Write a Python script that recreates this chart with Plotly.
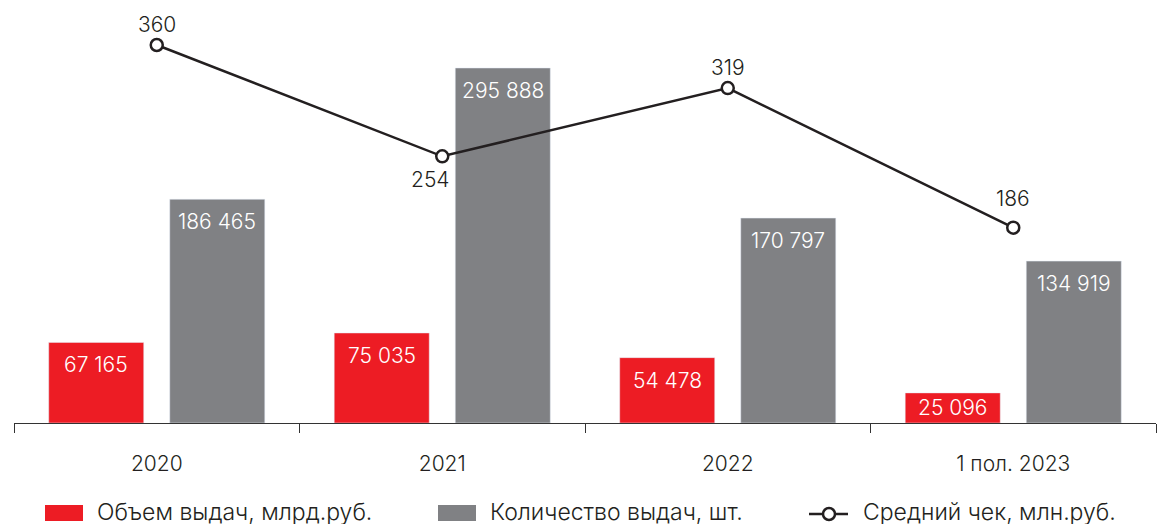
import plotly.graph_objects as go

categories = ["2020", "2021", "2022", "1 пол. 2023"]
volume = [67165, 75035, 54478, 25096]          # Объем выдач, млрд.руб.
count = [186465, 295888, 170797, 134919]       # Количество выдач, шт.
avg_check = [360, 254, 319, 186]               # Средний чек, млн.руб.
line_label_dy = [21, -23, 21, 29]              # label offset from marker (px)
line_label_dx = [0, -12, 0, 0]

legend_labels = ["Объем выдач, млрд.руб.", "Количество выдач, шт.", "Средний чек, млн.руб."]

RED = "#ED1C24"
GRAY = "#808184"
DARK = "#231F20"
FONT = "Inter"
FS = 21
FW = 300

W, H = 1166, 524
ML, MR, MT, MB = 14, 10, 20, 101
PW, PH = W - ML - MR, H - MT - MB
Y1_SCALE = 0.0011998   # px per unit, primary axis
Y2_SCALE = 1.05        # px per unit, secondary axis


def fmt(v):
    return f"{v:,}".replace(",", " ")


def px_x(x):
    return (x - ML) / PW


def px_y(y):
    return (H - MB - y) / PH


def font(color=DARK, size=FS):
    return dict(family=FONT, size=size, color=color, weight=FW)


fig = go.Figure()
fig.add_trace(go.Bar(x=categories, y=volume, marker_color=RED, name=legend_labels[0],
                     showlegend=False, hoverinfo="skip"))
fig.add_trace(go.Bar(x=categories, y=count, marker_color=GRAY, name=legend_labels[1],
                     showlegend=False, hoverinfo="skip"))
fig.add_trace(go.Scatter(x=categories, y=avg_check, yaxis="y2", mode="lines+markers",
                         line=dict(color=DARK, width=2.5),
                         marker=dict(symbol="circle", size=12, color="white",
                                     line=dict(color=DARK, width=2.5)),
                         cliponaxis=False,
                         name=legend_labels[2], showlegend=False, hoverinfo="skip"))

annotations = []
# line value labels
for i, v in enumerate(avg_check):
    annotations.append(dict(x=i, y=v, xref="x", yref="y2", xshift=line_label_dx[i],
                            yshift=line_label_dy[i], text=str(v), showarrow=False,
                            font=font()))

# bar value labels inside the top of each bar
slot_shift = 60.5
for series, shift in ((volume, -slot_shift), (count, slot_shift)):
    for i, v in enumerate(series):
        bar_px = v * Y1_SCALE
        annotations.append(dict(x=i, y=v, xref="x", yref="y", xshift=shift,
                                yshift=-min(22.5, bar_px / 2),
                                text=fmt(v), showarrow=False,
                                font=font("white")))

# manual legend
shapes = []
legend_y = 512
shapes.append(dict(type="rect", xref="paper", yref="paper",
                   x0=px_x(45), x1=px_x(83), y0=px_y(521), y1=px_y(505),
                   fillcolor=RED, line=dict(width=0)))
shapes.append(dict(type="rect", xref="paper", yref="paper",
                   x0=px_x(438), x1=px_x(476), y0=px_y(521), y1=px_y(505),
                   fillcolor=GRAY, line=dict(width=0)))
shapes.append(dict(type="line", xref="paper", yref="paper",
                   x0=px_x(809), x1=px_x(848), y0=px_y(514), y1=px_y(514),
                   line=dict(color=DARK, width=2.5)))
shapes.append(dict(type="circle", xref="paper", yref="paper",
                   x0=px_x(823), x1=px_x(835), y0=px_y(520), y1=px_y(508),
                   fillcolor="white", line=dict(color=DARK, width=2.5)))
for label, xs in zip(legend_labels, (95, 488, 861)):
    annotations.append(dict(x=px_x(xs), y=px_y(legend_y), xref="paper", yref="paper",
                            xanchor="left", yanchor="middle", text=label, showarrow=False,
                            font=font(size=23)))

fig.update_layout(
    width=W, height=H,
    margin=dict(l=ML, r=MR, t=MT, b=MB),
    paper_bgcolor="white", plot_bgcolor="white",
    barmode="group", bargap=0.152, bargroupgap=0.215,
    font=font(),
    showlegend=False,
    xaxis=dict(type="category", range=[-0.5, 3.5], showgrid=False, zeroline=False,
               showline=True, linecolor="#333333", linewidth=1,
               ticks="outside", tickson="boundaries", ticklen=9, tickcolor="#333333",
               tickwidth=1, ticklabelstandoff=22, tickfont=font()),
    yaxis=dict(range=[0, PH / Y1_SCALE], visible=False, showgrid=False, zeroline=False),
    yaxis2=dict(range=[0, PH / Y2_SCALE], overlaying="y", visible=False, showgrid=False,
                zeroline=False),
    annotations=annotations,
    shapes=shapes,
)

fig.write_html("out.html", config={"displayModeBar": False},
               post_script="document.body.style.margin='0';")
